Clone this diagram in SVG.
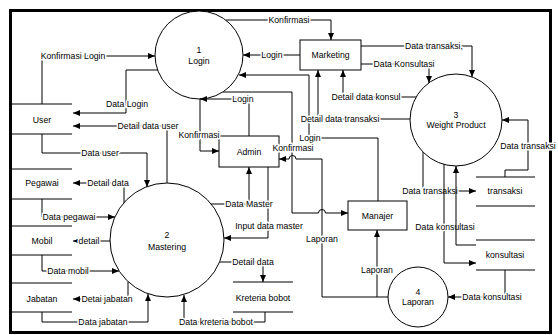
<svg xmlns="http://www.w3.org/2000/svg" width="558" height="335" viewBox="0 0 558 335">
<style>
text{font-family:"Liberation Sans",Arial,sans-serif;font-size:8.7px;fill:#000;text-anchor:middle}
.lbl{paint-order:stroke;stroke:#fff;stroke-width:3px;stroke-linejoin:round}
.shape{fill:#fff;stroke:#000;stroke-width:1}
.store{stroke:#000;stroke-width:1;fill:none}
.c{fill:none;stroke:#000;stroke-width:1}
.arr{marker-end:url(#a)}
</style>
<defs>
<marker id="a" viewBox="0 0 8 8" refX="8" refY="4" markerWidth="7" markerHeight="7" orient="auto" markerUnits="userSpaceOnUse"><path d="M0,0.6 L8,4 L0,7.4 z" fill="#000"/></marker>
</defs>
<rect x="0" y="0" width="558" height="335" fill="#fff"/>
<rect x="10.5" y="10.5" width="540" height="322" fill="none" stroke="#000" stroke-width="3"/>

<g id="login"><circle class="shape" cx="199" cy="55" r="44"/><text x="199" y="53">1</text><text x="199" y="64">Login</text></g>
<g id="mastering"><circle class="shape" cx="167" cy="240" r="57"/><text x="167" y="238">2</text><text x="167" y="250">Mastering</text></g>
<g id="weight-product"><circle class="shape" cx="456" cy="120" r="46"/><text x="456" y="118">3</text><text x="456" y="128">Weight Product</text></g>
<g id="laporan"><circle class="shape" cx="418" cy="297" r="30"/><text x="418" y="295">4</text><text x="418" y="305">Laporan</text></g>
<g id="marketing"><rect class="shape" x="300" y="40" width="61" height="30"/><text x="330.5" y="58">Marketing</text></g>
<g id="admin"><rect class="shape" x="219" y="136" width="60" height="31"/><text x="249" y="155">Admin</text></g>
<g id="manajer"><rect class="shape" x="348" y="201" width="59" height="29"/><text x="377.5" y="219">Manajer</text></g>

<g id="store-user"><path class="store" d="M12,104 H72 M12,134 H72"/><text x="42" y="123">User</text></g>
<g id="store-pegawai"><path class="store" d="M12,169 H72 M12,199 H72"/><text x="42" y="186">Pegawai</text></g>
<g id="store-mobil"><path class="store" d="M12,226 H72 M12,255 H72"/><text x="42" y="244">Mobil</text></g>
<g id="store-jabatan"><path class="store" d="M12,283 H72 M12,312 H72"/><text x="42" y="302">Jabatan</text></g>
<g id="store-transaksi"><path class="store" d="M476,177 H535 M476,206 H535"/><text x="505" y="194">transaksi</text></g>
<g id="store-konsultasi"><path class="store" d="M476,240 H535 M476,270 H535"/><text x="505" y="258">konsultasi</text></g>
<g id="store-kreteria"><path class="store" d="M233,282 H293 M233,312 H293"/><text x="263" y="301">Kreteria bobot</text></g>

<g id="connectors">
<g><path class="c arr" d="M42,104 V56 H155"/><text class="lbl" x="73" y="59">Konfirmasi Login</text></g>
<g><path class="c arr" d="M158,70 H126 V113 H73"/><text class="lbl" x="127" y="107">Data Login</text></g>
<g><path class="c arr" d="M167,183 V126 H73"/><text class="lbl" x="148" y="129">Detail data user</text></g>
<g><path class="c arr" d="M42,134 V153 H147 V187"/><text class="lbl" x="100" y="156">Data user</text></g>
<g><path class="c arr" d="M124,203 V183 H73"/><text class="lbl" x="108" y="186">Detail data</text></g>
<g><path class="c arr" d="M42,199 V217 H115"/><text class="lbl" x="69" y="220">Data pegawai</text></g>
<g><path class="c arr" d="M110,241 H73"/><text class="lbl" x="89" y="244">detail</text></g>
<g><path class="c arr" d="M42,255 V271 H119"/><text class="lbl" x="68" y="274">Data mobil</text></g>
<g><path class="c arr" d="M128,282 V299 H73"/><text class="lbl" x="107" y="302">Detai jabatan</text></g>
<g><path class="c arr" d="M42,312 V322 H148 V294"/><text class="lbl" x="103" y="325">Data jabatan</text></g>
<g><path class="c arr" d="M265,312 V322 H184 V295"/><text class="lbl" x="216" y="325">Data kreteria bobot</text></g>
<g><path class="c arr" d="M220,262 H263 V282"/><text class="lbl" x="253" y="265">Detail data</text></g>
<g><path class="c arr" d="M268,167 V238 H224"/><text class="lbl" x="269" y="229">Input data master</text></g>
<g><path class="c arr" d="M211,204 H249 V167"/><text class="lbl" x="249" y="207">Data Master</text></g>
<g><path class="c arr" d="M200,99 V151 H219"/><text class="lbl" x="199" y="138">Konfirmasi</text></g>
<g><path class="c arr" d="M249,136 V99 H200"/><text class="lbl" x="243" y="102">Login</text></g>
<g><path class="c arr" d="M300,55 H243"/><text class="lbl" x="272" y="58">Login</text></g>
<g><path class="c arr" d="M226,20 H331 V40"/><text class="lbl" x="289" y="23">Konfirmasi</text></g>
<g><path class="c arr" d="M378,201 V138 H309 V75 H239"/><text class="lbl" x="310" y="141">Login</text></g>
<g><path class="c arr" d="M410,119 H318 V70"/><text class="lbl" x="340" y="122">Detail data transaksi</text></g>
<g><path class="c arr" d="M416,97 H343 V70"/><text class="lbl" x="366" y="100">Detail data konsul</text></g>
<g><path class="c arr" d="M361,46 H472 V77"/><text class="lbl" x="434" y="49">Data transaksi,</text></g>
<g><path class="c arr" d="M361,64 H429 V83"/><text class="lbl" x="404" y="67">Data Konsultasi</text></g>
<g><path class="c arr" d="M505,177 V170 H528 V120 H502"/><text class="lbl" x="528" y="149">Data transaksi</text></g>
<g><path class="c arr" d="M423,152 V191 H476"/><text class="lbl" x="430" y="194">Data transaksi</text></g>
<g><path class="c arr" d="M444,164 V263 H476"/><text class="lbl" x="445" y="230">Data konsultasi</text></g>
<g><path class="c arr" d="M476,245 H456 V166"/></g>
<g><path class="c arr" d="M505,270 V297 H448"/><text class="lbl" x="492" y="300">Data konsultasi</text></g>
<g><path class="c arr" d="M388,297 H377 V230"/><text class="lbl" x="377" y="273">Laporan</text></g>
<g><path class="c arr" d="M377,297 H322 V159 H296 A3.5,3.5 0 0 0 289,159 H279"/><text class="lbl" x="322" y="242">Laporan</text></g>
<g><path class="c arr" d="M223,92 H292 V213 H318.5 A3.5,3.5 0 0 1 325.5,213 H348"/><text class="lbl" x="293" y="151">Konfirmasi</text></g>
</g>
</svg>
